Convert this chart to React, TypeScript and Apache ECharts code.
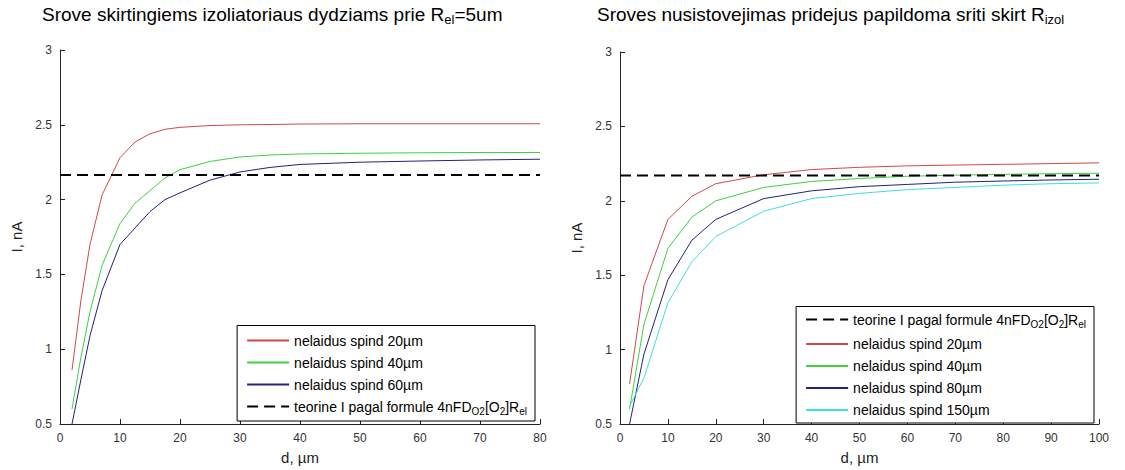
import React, { useEffect, useRef } from "react";
import * as echarts from "echarts";

// ---- data ----
const leftX = [2, 3.5, 5, 7, 10, 12.5, 15, 17.5, 20, 25, 30, 35, 40, 50, 60, 70, 80];
const leftRed = [0.86, 1.33, 1.7, 2.03, 2.28, 2.385, 2.44, 2.47, 2.483, 2.495, 2.5, 2.502, 2.505, 2.507, 2.507, 2.507, 2.507];
const leftGreen = [0.6, 0.95, 1.25, 1.56, 1.84, 1.976, 2.06, 2.145, 2.2, 2.255, 2.285, 2.298, 2.305, 2.31, 2.313, 2.315, 2.315];
const leftBlue = [0.5, 0.8, 1.09, 1.39, 1.7, 1.81, 1.92, 2.0, 2.045, 2.13, 2.185, 2.215, 2.235, 2.25, 2.258, 2.265, 2.27];
const leftTheory = 2.165;
const leftXRange = [0, 80];

const rightX = [2, 5, 10, 15, 20, 30, 40, 50, 60, 70, 80, 90, 100];
const rightRed = [0.77, 1.43, 1.875, 2.03, 2.115, 2.175, 2.21, 2.225, 2.235, 2.24, 2.245, 2.25, 2.255];
const rightGreen = [0.6, 1.17, 1.68, 1.89, 2.0, 2.09, 2.13, 2.15, 2.165, 2.172, 2.178, 2.182, 2.185];
const rightBlue = [0.5, 0.97, 1.47, 1.735, 1.875, 2.015, 2.067, 2.095, 2.11, 2.125, 2.133, 2.14, 2.145];
const rightCyan = [0.62, 0.81, 1.315, 1.59, 1.76, 1.93, 2.015, 2.05, 2.075, 2.09, 2.105, 2.115, 2.12];
const rightTheory = 2.17;
const rightXRange = [0, 100];

const yRange = [0.5, 3];

const nameL20 = "nelaidus spind 20µm";
const nameL40 = "nelaidus spind 40µm";
const nameL60 = "nelaidus spind 60µm";
const nameR80 = "nelaidus spind 80µm";
const nameR150 = "nelaidus spind 150µm";
const nameTheory = "teorine I pagal formule 4nFD";
const nameTheoryR = "teorine I pagal formule 4nFD ";

const COLORS = { red: "#d04848", green: "#3fcf3f", blue: "#22227a", cyan: "#3fdede", black: "#000" };

const FONT = "'Liberation Sans', Arial, sans-serif";

function pairs(xs: number[], ys: number[]) {
  return xs.map((x, i) => [x, ys[i]]);
}

export default function App() {
  const ref = useRef<HTMLDivElement>(null);

  useEffect(() => {
    if (!ref.current) return;
    const chart = echarts.init(ref.current, undefined, { renderer: "svg" });

    const axisCommon = {
      axisLine: { show: true, lineStyle: { color: "#222", width: 1 } },
      axisTick: { show: true, inside: true, length: 5, lineStyle: { color: "#222" } },
      splitLine: { show: false },
      axisLabel: { color: "#333", fontSize: 12, fontFamily: FONT, margin: 8 },
      nameTextStyle: { color: "#222", fontSize: 15, fontFamily: FONT },
    };

    const lineSeries = (name: string, xi: number, data: number[][], color: string) => ({
      type: "line",
      name,
      xAxisIndex: xi,
      yAxisIndex: xi,
      data,
      symbol: "none",
      smooth: false,
      lineStyle: { color, width: 1 },
      itemStyle: { color },
      z: 3,
    });
    const theorySeries = (name: string, xi: number, range: number[], v: number) => ({
      type: "line",
      name,
      xAxisIndex: xi,
      yAxisIndex: xi,
      data: [[range[0], v], [range[1], v]],
      symbol: "none",
      lineStyle: { color: COLORS.black, width: 2, type: [11, 6] },
      itemStyle: { color: COLORS.black },
      z: 4,
    });

    const legendRich = {
      t: { fontSize: 14, fontFamily: FONT, color: "#000" },
      s: { fontSize: 10, fontFamily: FONT, color: "#000", padding: [9, 0, 0, 0] },
    };
    const legendFormatter = (n: string) => {
      if (n.startsWith("teorine")) {
        return "{t|teorine I pagal formule 4nFD}{s|O2}{t|[O}{s|2}{t|]R}{s|el}";
      }
      return "{t|" + n + "}";
    };

    const titleRich = {
      n: { fontSize: 19, fontWeight: "normal", fontFamily: FONT, color: "#000" },
      s: { fontSize: 13, fontWeight: "normal", fontFamily: FONT, color: "#000", padding: [10, 0, 0, 0] },
    };

    const legendCommon = {
      orient: "vertical",
      itemWidth: 42,
      itemHeight: 14,
      itemGap: 8,
      backgroundColor: "#fff",
      borderColor: "#000",
      borderWidth: 1,
      borderRadius: 0,
      selectedMode: false,
      itemStyle: { opacity: 0 },
      textStyle: { rich: legendRich },
    };

    chart.setOption({
      animation: false,
      backgroundColor: "#fff",
      title: [
        {
          text: "{n|Srove skirtingiems izoliatoriaus dydziams prie R}{s|el}{n|=5um}",
          left: 42,
          top: 3,
          padding: 0,
          textStyle: { fontWeight: "normal", rich: titleRich },
        },
        {
          text: "{n|Sroves nusistovejimas pridejus papildoma sriti skirt R}{s|izol}",
          left: 597,
          top: 3,
          padding: 0,
          textStyle: { fontWeight: "normal", rich: titleRich },
        },
      ],
      grid: [
        { left: 60, top: 50, width: 480, height: 378, containLabel: false },
        { left: 620, top: 52, width: 479, height: 378, containLabel: false },
      ],
      xAxis: [
        {
          ...axisCommon,
          type: "value",
          gridIndex: 0,
          min: leftXRange[0],
          max: leftXRange[1],
          interval: 10,
          name: "d, µm",
          nameLocation: "middle",
          nameGap: 26,
        },
        {
          ...axisCommon,
          type: "value",
          gridIndex: 1,
          min: rightXRange[0],
          max: rightXRange[1],
          interval: 10,
          name: "d, µm",
          nameLocation: "middle",
          nameGap: 26,
        },
      ],
      yAxis: [
        {
          ...axisCommon,
          type: "value",
          gridIndex: 0,
          min: yRange[0],
          max: yRange[1],
          interval: 0.5,
          name: "I, nA",
          nameLocation: "middle",
          nameGap: 36,
        },
        {
          ...axisCommon,
          type: "value",
          gridIndex: 1,
          min: yRange[0],
          max: yRange[1],
          interval: 0.5,
          name: "I, nA",
          nameLocation: "middle",
          nameGap: 36,
        },
      ],
      legend: [
        {
          ...legendCommon,
          data: [nameL20, nameL40, nameL60, nameTheory],
          right: 590,
          bottom: 49,
          padding: [8, 8, 5, 9],
          formatter: legendFormatter,
        },
        {
          ...legendCommon,
          data: [nameTheoryR, nameL20 + " ", nameL40 + " ", nameR80, nameR150],
          right: 31,
          bottom: 47,
          padding: [6, 8, 6, 9],
          formatter: (n: string) => legendFormatter(n.trim()),
        },
      ],
      series: [
        lineSeries(nameL20, 0, pairs(leftX, leftRed), COLORS.red),
        lineSeries(nameL40, 0, pairs(leftX, leftGreen), COLORS.green),
        lineSeries(nameL60, 0, pairs(leftX, leftBlue), COLORS.blue),
        theorySeries(nameTheory, 0, leftXRange, leftTheory),
        theorySeries(nameTheoryR, 1, rightXRange, rightTheory),
        lineSeries(nameL20 + " ", 1, pairs(rightX, rightRed), COLORS.red),
        lineSeries(nameL40 + " ", 1, pairs(rightX, rightGreen), COLORS.green),
        lineSeries(nameR80, 1, pairs(rightX, rightBlue), COLORS.blue),
        lineSeries(nameR150, 1, pairs(rightX, rightCyan), COLORS.cyan),
      ],
    });

    return () => chart.dispose();
  }, []);

  return <div ref={ref} style={{ width: 1125, height: 470, position: "absolute", left: 0, top: 0 }} />;
}
